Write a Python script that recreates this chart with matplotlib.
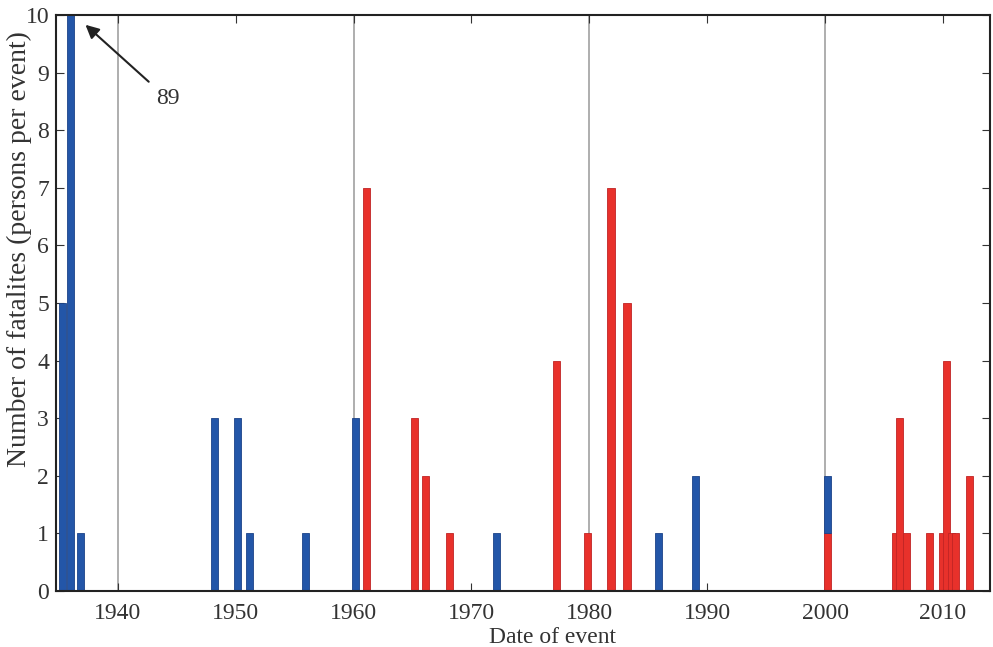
import numpy as np
import matplotlib
matplotlib.use('Agg')
import matplotlib.pyplot as plt

plt.rcParams['font.family'] = ['Liberation Serif', 'DejaVu Serif']

# events with natural-hazard fatalities, by date (decimal year)
blue_year = [1935.27, 1936.0, 1936.85, 1948.2, 1950.13, 1951.16, 1955.9, 1960.15,
             1972.16, 1985.9, 1988.99, 2000.18]
blue_n = [5, 89, 1, 3, 3, 1, 1, 3, 1, 1, 2, 1]

red_year = [1961.1, 1965.2, 1966.1, 1968.15, 1977.25, 1979.86, 1981.84, 1983.2,
            2000.18, 2006.0, 2006.3, 2006.93, 2008.9, 2010.0, 2010.3, 2010.7,
            2011.1, 2012.25]
red_n = [7, 3, 2, 1, 4, 1, 7, 5, 1, 1, 3, 1, 1, 1, 4, 1, 1, 2]

grid_years = [1940, 1960, 1980, 2000]
x_ticks = [1940, 1950, 1960, 1970, 1980, 1990, 2000, 2010]
y_ticks = list(range(0, 11))

blue_c = '#2356a8'
red_c = '#e8312b'

fig = plt.figure(figsize=(9.93, 6.47), dpi=100)
ax = fig.add_axes([0.0564, 0.0866, 0.9406, 0.8902])

for g in grid_years:
    ax.axvline(g, color='#a8a8a8', lw=1.3, zorder=0)

red_lookup = dict(zip(red_year, red_n))
blue_bottom = [red_lookup.get(y, 0) for y in blue_year]

ax.bar(red_year, red_n, width=0.6, color=red_c, edgecolor='#c02424', lw=0.6, zorder=2)
ax.bar(blue_year, blue_n, width=0.6, bottom=blue_bottom, color=blue_c,
       edgecolor='#1b4288', lw=0.6, zorder=2)

ax.annotate('89', xy=(1937.25, 9.83), xytext=(1944.2, 8.55), fontsize=17,
            ha='center', va='center', color='#333333',
            arrowprops=dict(arrowstyle='-|>', color='#222222', lw=1.5,
                            mutation_scale=20, shrinkA=4, shrinkB=0))

ax.set_xlim(1934.75, 2014)
ax.set_ylim(0, 10)
ax.set_xticks(x_ticks)
ax.set_yticks(y_ticks)
ax.tick_params(direction='in', top=True, right=True, length=6, width=0.8,
               labelsize=17, colors='#333333')
ax.tick_params(axis='x', pad=9)
ax.tick_params(axis='y', pad=5)

ax.set_xlabel('Date of event', fontsize=17, color='#333333')
ax.xaxis.set_label_coords(0.532, -0.062)
ax.set_ylabel('Number of fatalites (persons per event)', fontsize=20, color='#333333')
ax.yaxis.set_label_coords(-0.026, 0.594)

for s in ax.spines.values():
    s.set_linewidth(1.5)
    s.set_color('#222222')

fig.savefig('out.png', dpi=100)
